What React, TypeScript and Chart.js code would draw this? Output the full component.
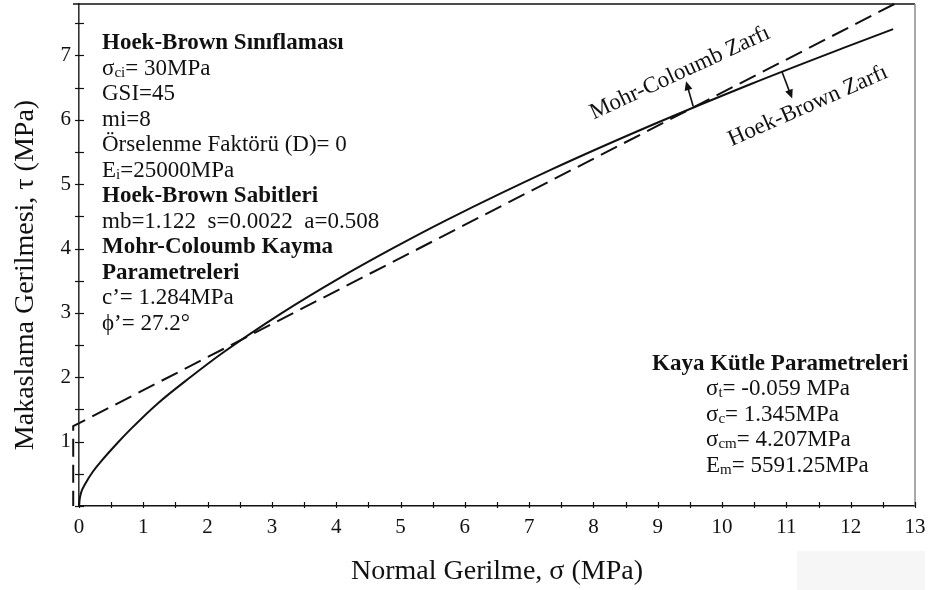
import React, { useEffect, useRef } from "react";
import { Chart, registerables } from "chart.js";

Chart.register(...registerables);

// ---- Data ----
// Hoek-Brown envelope: normal stress (sigma) vs shear stress (tau), MPa
const hbSigma = [0, 0.01, 0.03, 0.10, 0.22, 0.34, 0.58, 0.80, 1.22, 1.73, 2.22, 3.14, 4.03, 4.89, 5.73, 7.35, 8.91, 10.43, 11.92, 12.66];
const hbTau = [0, 0.10, 0.20, 0.35, 0.54, 0.69, 0.96, 1.19, 1.59, 2.00, 2.37, 2.99, 3.53, 4.01, 4.45, 5.23, 5.92, 6.55, 7.13, 7.41];

// Mohr-Coulomb envelope, drawn from the top end down to the tension cut-off
const mcSigma = [12.68, -0.09, -0.09];
const mcTau = [7.8, 1.24, 0];

// Axis tick labels
const xTickLabels = [0, 1, 2, 3, 4, 5, 6, 7, 8, 9, 10, 11, 12, 13];
const yTickLabels = [1, 2, 3, 4, 5, 6, 7];
const xRange = [0, 13];
const yRange = [0, 7.8];

// Annotation arrows (data coordinates: [sigma, tau])
const mcArrowFrom = [9.55, 6.21];
const mcArrowTo = [9.44, 6.6];
const hbArrowFrom = [10.93, 6.75];
const hbArrowTo = [11.09, 6.33];

// Texts
type Part = { t: string; sub?: boolean };
const leftBlock: { bold?: boolean; parts: Part[] }[] = [
  { bold: true, parts: [{ t: "Hoek-Brown Sınıflaması" }] },
  { parts: [{ t: "σ" }, { t: "ci", sub: true }, { t: "= 30MPa" }] },
  { parts: [{ t: "GSI=45" }] },
  { parts: [{ t: "mi=8" }] },
  { parts: [{ t: "Örselenme Faktörü (D)= 0" }] },
  { parts: [{ t: "E" }, { t: "i", sub: true }, { t: "=25000MPa" }] },
  { bold: true, parts: [{ t: "Hoek-Brown Sabitleri" }] },
  { parts: [{ t: "mb=1.122  s=0.0022  a=0.508" }] },
  { bold: true, parts: [{ t: "Mohr-Coloumb Kayma" }] },
  { bold: true, parts: [{ t: "Parametreleri" }] },
  { parts: [{ t: "c’= 1.284MPa" }] },
  { parts: [{ t: "ϕ’= 27.2°" }] },
];
const rightTitle = "Kaya Kütle Parametreleri";
const rightBlock: Part[][] = [
  [{ t: "σ" }, { t: "t", sub: true }, { t: "= -0.059 MPa" }],
  [{ t: "σ" }, { t: "c", sub: true }, { t: "= 1.345MPa" }],
  [{ t: "σ" }, { t: "cm", sub: true }, { t: "= 4.207MPa" }],
  [{ t: "E" }, { t: "m", sub: true }, { t: "= 5591.25MPa" }],
];
const xTitle = "Normal Gerilme, σ (MPa)";
const yTitle = "Makaslama Gerilmesi, τ (MPa)";
const mcLabel = "Mohr-Coloumb Zarfı";
const hbLabel = "Hoek-Brown Zarfı";

const FONT = '"Liberation Serif", "Times New Roman", serif';
const INK = "#111111";

function drawParts(ctx: CanvasRenderingContext2D, parts: Part[], x: number, y: number, size: number, bold: boolean) {
  let cx = x;
  for (const p of parts) {
    const fs = p.sub ? Math.round(size * 0.66) : size;
    ctx.font = `${bold ? "bold " : ""}${fs}px ${FONT}`;
    ctx.fillText(p.t, cx, y + (p.sub ? 2 : 0));
    cx += ctx.measureText(p.t).width;
  }
}

function arrow(ctx: CanvasRenderingContext2D, x1: number, y1: number, x2: number, y2: number) {
  const ang = Math.atan2(y2 - y1, x2 - x1);
  const hl = 9, hw = 4;
  ctx.beginPath();
  ctx.moveTo(x1, y1);
  ctx.lineTo(x2 - Math.cos(ang) * hl * 0.8, y2 - Math.sin(ang) * hl * 0.8);
  ctx.stroke();
  ctx.beginPath();
  ctx.moveTo(x2, y2);
  ctx.lineTo(x2 - Math.cos(ang) * hl - Math.sin(ang) * hw, y2 - Math.sin(ang) * hl + Math.cos(ang) * hw);
  ctx.lineTo(x2 - Math.cos(ang) * hl + Math.sin(ang) * hw, y2 - Math.sin(ang) * hl - Math.cos(ang) * hw);
  ctx.closePath();
  ctx.fill();
}

const decorPlugin = {
  id: "decor",
  beforeDraw(chart: any) {
    const ctx = chart.ctx as CanvasRenderingContext2D;
    ctx.save();
    ctx.fillStyle = "#ffffff";
    ctx.fillRect(0, 0, chart.width, chart.height);
    ctx.fillStyle = "#f6f6f6";
    ctx.fillRect(797, 551, 128, 39);
    ctx.restore();
  },
  afterDraw(chart: any) {
    const ctx = chart.ctx as CanvasRenderingContext2D;
    const xs = chart.scales.x;
    const ys = chart.scales.y;
    const ca = chart.chartArea;
    ctx.save();
    // top and right frame
    ctx.lineWidth = 1.5;
    ctx.strokeStyle = INK;
    ctx.beginPath();
    ctx.moveTo(ca.left - 6, ca.top);
    ctx.lineTo(ca.right, ca.top);
    ctx.stroke();
    ctx.strokeStyle = "#8c8c8c";
    ctx.beginPath();
    ctx.moveTo(ca.right, ca.top);
    ctx.lineTo(ca.right, ca.bottom);
    ctx.stroke();

    // tick marks (major and half-step minor)
    ctx.strokeStyle = INK;
    ctx.lineWidth = 1.2;
    const xt: number[] = [];
    xTickLabels.forEach((v, i) => { xt.push(v); if (i < xTickLabels.length - 1) xt.push(v + 0.5); });
    const yt: number[] = [];
    [yRange[0], ...yTickLabels].forEach((v) => { yt.push(v); if (v + 0.5 < yRange[1]) yt.push(v + 0.5); });
    for (const v of xt) {
      const px = Math.round(xs.getPixelForValue(v)) + 0.5;
      ctx.beginPath(); ctx.moveTo(px, ca.bottom - 4); ctx.lineTo(px, ca.bottom + 2); ctx.stroke();
    }
    for (const v of yt) {
      const py = Math.round(ys.getPixelForValue(v)) + 0.5;
      ctx.beginPath(); ctx.moveTo(ca.left - 4, py); ctx.lineTo(ca.left + 5, py); ctx.stroke();
    }

    ctx.fillStyle = INK;
    ctx.textAlign = "left";
    ctx.textBaseline = "alphabetic";
    // left parameter block
    leftBlock.forEach((row, i) => {
      const cy = 42 + 25.5 * i;
      drawParts(ctx, row.parts, 102, cy + 7, 23, !!row.bold);
    });
    // right parameter block
    ctx.font = `bold 23px ${FONT}`;
    ctx.fillText(rightTitle, 652, 363 + 7);
    rightBlock.forEach((parts, i) => {
      drawParts(ctx, parts, 706, 388 + 25.5 * i + 7, 23, false);
    });

    // rotated envelope labels
    ctx.font = `23px ${FONT}`;
    ctx.textAlign = "center";
    ctx.textBaseline = "middle";
    ctx.save();
    ctx.translate(680, 73);
    ctx.rotate((-24.8 * Math.PI) / 180);
    ctx.fillText(mcLabel, 0, 0);
    ctx.restore();
    ctx.save();
    ctx.translate(808, 106);
    ctx.rotate((-23.8 * Math.PI) / 180);
    ctx.fillText(hbLabel, 0, 0);
    ctx.restore();

    // arrows
    ctx.lineWidth = 1.6;
    ctx.strokeStyle = INK;
    arrow(ctx, xs.getPixelForValue(mcArrowFrom[0]), ys.getPixelForValue(mcArrowFrom[1]), xs.getPixelForValue(mcArrowTo[0]), ys.getPixelForValue(mcArrowTo[1]));
    arrow(ctx, xs.getPixelForValue(hbArrowFrom[0]), ys.getPixelForValue(hbArrowFrom[1]), xs.getPixelForValue(hbArrowTo[0]), ys.getPixelForValue(hbArrowTo[1]));

    // axis titles
    ctx.font = `28px ${FONT}`;
    ctx.textAlign = "center";
    ctx.textBaseline = "alphabetic";
    ctx.fillText(xTitle, (ca.left + ca.right) / 2, 579);
    ctx.save();
    ctx.translate(33, 275);
    ctx.rotate(-Math.PI / 2);
    ctx.fillText(yTitle, 0, 0);
    ctx.restore();
    ctx.restore();
  },
};

export default function App() {
  const ref = useRef<HTMLCanvasElement | null>(null);
  useEffect(() => {
    document.body.style.margin = "0";
    const canvas = ref.current;
    if (!canvas) return;
    const hbData = hbSigma.map((s, i) => ({ x: s, y: hbTau[i] }));
    const mcData = mcSigma.map((s, i) => ({ x: s, y: mcTau[i] }));
    const chart = new Chart(canvas, {
      type: "line",
      data: {
        datasets: [
          {
            label: "Hoek-Brown Zarfı",
            data: hbData,
            borderColor: INK,
            borderWidth: 2,
            pointRadius: 0,
            cubicInterpolationMode: "monotone",
            fill: false,
            clip: false as any,
          },
          {
            label: "Mohr-Coloumb Zarfı",
            data: mcData,
            borderColor: INK,
            borderWidth: 2,
            borderDash: [18, 8],
            pointRadius: 0,
            tension: 0,
            fill: false,
            clip: false as any,
          },
        ],
      },
      options: {
        animation: false,
        responsive: false,
        devicePixelRatio: 1,
        layout: { padding: { top: 4, right: 16, left: 0, bottom: 0 } },
        plugins: { legend: { display: false }, tooltip: { enabled: false }, title: { display: false } },
        scales: {
          x: {
            type: "linear",
            min: xRange[0],
            max: xRange[1],
            afterBuildTicks: (s: any) => { s.ticks = xTickLabels.map((v) => ({ value: v })); },
            afterFit: (s: any) => { s.height = 84; s.paddingLeft = 0; s.paddingRight = 0; },
            ticks: {
              autoSkip: false,
              maxRotation: 0,
              padding: 9,
              color: INK,
              font: { family: FONT, size: 21 },
              callback: (v: any) => String(v),
            },
            grid: { display: false, drawTicks: false },
            border: { display: true, color: INK, width: 1.6 },
          },
          y: {
            type: "linear",
            min: yRange[0],
            max: yRange[1],
            afterBuildTicks: (s: any) => { s.ticks = yTickLabels.map((v) => ({ value: v })); },
            afterFit: (s: any) => { s.width = 79; s.paddingTop = 0; s.paddingBottom = 0; },
            ticks: {
              autoSkip: false,
              padding: 8,
              color: INK,
              font: { family: FONT, size: 21 },
              callback: (v: any) => String(v),
            },
            grid: { display: false, drawTicks: false },
            border: { display: true, color: "#333333", width: 1.6 },
          },
        },
      },
      plugins: [decorPlugin],
    } as any);
    return () => chart.destroy();
  }, []);
  return (
    <div style={{ position: "absolute", left: 0, top: 0, width: 931, height: 590 }}>
      <canvas ref={ref} width={931} height={590} style={{ display: "block" }} />
    </div>
  );
}
